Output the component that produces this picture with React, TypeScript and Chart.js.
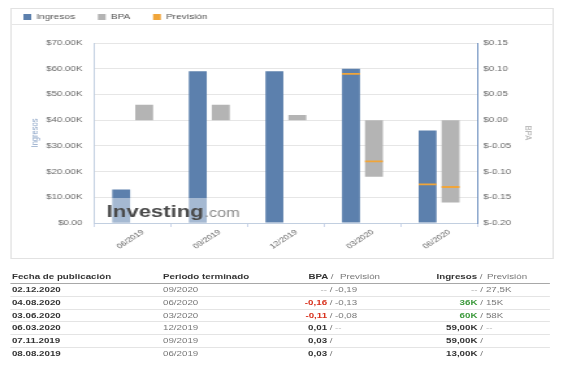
import React, { useEffect, useRef } from 'react';
import { Chart, registerables } from 'chart.js';

Chart.register(...registerables);

// ---- chart data ----
const PERIODS = ['06/2019', '09/2019', '12/2019', '03/2020', '06/2020'];
const INGRESOS = [13000, 59000, 59000, 60000, 36000];
const INGRESOS_PREVISION = [null, null, null, 58000, 15000];
const BPA = [0.03, 0.03, 0.01, -0.11, -0.16];
const BPA_PREVISION = [null, null, null, -0.08, -0.13];
const INGRESOS_TICKS = ['$0.00', '$10.00K', '$20.00K', '$30.00K', '$40.00K', '$50.00K', '$60.00K', '$70.00K'];
const BPA_TICKS = ['$-0.20', '$-0.15', '$-0.10', '$-0.05', '$0.00', '$0.05', '$0.10', '$0.15'];

// ---- table data ----
const FECHAS = ['02.12.2020', '04.08.2020', '03.06.2020', '06.03.2020', '07.11.2019', '08.08.2019'];
const PERIODOS_TABLA = ['09/2020', '06/2020', '03/2020', '12/2019', '09/2019', '06/2019'];
const BPA_REAL = ['--', '-0,16', '-0,11', '0,01', '0,03', '0,03'];
const BPA_PREV = ['-0,19', '-0,13', '-0,08', '--', '', ''];
const BPA_TONE = ['none', 'neg', 'neg', 'plain', 'plain', 'plain'];
const ING_REAL = ['--', '36K', '60K', '59,00K', '59,00K', '13,00K'];
const ING_PREV = ['27,5K', '15K', '58K', '--', '', ''];
const ING_TONE = ['none', 'pos', 'pos', 'plain', 'plain', 'plain'];

// ---- style ----
const FONT = '"Liberation Sans", Arial, Helvetica, sans-serif';
const BLUE = '#5c80ad';
const GRAY = '#b4b4b4';
const ORANGE = '#f0a53a';
const S = 1.3; // horizontal stretch of the whole widget
const MARKER_HALF = 0.005; // forecast marker half-thickness, fraction of axis span

const ING_MIN = 0, ING_MAX = 70000, ING_STEP = 10000;
const BPA_MIN = -0.2, BPA_MAX = 0.15, BPA_STEP = 0.05;

const toneColor = (t: string) =>
  t === 'neg' ? '#d8301c' : t === 'pos' ? '#3c9a3c' : t === 'none' ? '#aaa' : '#333';

const watermark = {
  id: 'watermark',
  afterDatasetsDraw(chart: any) {
    const { ctx, chartArea } = chart;
    const x = chartArea.left + 9.5;
    const base = chartArea.bottom - 6;
    ctx.save();
    ctx.font = `bold 17px ${FONT}`;
    const w1 = ctx.measureText('Investing').width;
    ctx.font = `12.5px ${FONT}`;
    const w2 = ctx.measureText('.com').width;
    ctx.fillStyle = 'rgba(255,255,255,0.45)';
    ctx.fillRect(x - 4, chartArea.bottom - 25, w1 + w2 + 8, 24.5);
    ctx.textBaseline = 'alphabetic';
    ctx.textAlign = 'left';
    ctx.font = `bold 17px ${FONT}`;
    ctx.fillStyle = '#4a4a4a';
    ctx.fillText('Investing', x, base);
    ctx.font = `12.5px ${FONT}`;
    ctx.fillStyle = '#8a8a8a';
    ctx.fillText('.com', x + w1 + 0.5, base);
    ctx.restore();
  },
};

function ChartBox() {
  const ref = useRef<HTMLCanvasElement | null>(null);
  useEffect(() => {
    if (!ref.current) return;
    const ingD = (ING_MAX - ING_MIN) * MARKER_HALF;
    const bpaD = (BPA_MAX - BPA_MIN) * MARKER_HALF;
    const chart = new Chart(ref.current, {
      type: 'bar',
      data: {
        labels: PERIODS,
        datasets: [
          { label: 'Ingresos', data: INGRESOS, yAxisID: 'y', stack: 'ing', backgroundColor: BLUE, order: 1 },
          { label: 'BPA', data: BPA, yAxisID: 'y1', stack: 'bpa', backgroundColor: GRAY, order: 1 },
          {
            label: 'Previsión',
            data: INGRESOS_PREVISION.map((v) => (v == null ? null : [v - ingD, v + ingD])),
            yAxisID: 'y', stack: 'ing', backgroundColor: ORANGE, order: 0,
          },
          {
            label: 'Previsión BPA',
            data: BPA_PREVISION.map((v) => (v == null ? null : [v - bpaD, v + bpaD])),
            yAxisID: 'y1', stack: 'bpa', backgroundColor: ORANGE, order: 0,
          },
        ] as any,
      },
      options: {
        animation: false,
        responsive: false,
        maintainAspectRatio: false,
        datasets: { bar: { barPercentage: 0.78, categoryPercentage: 0.6, borderWidth: 0 } },
        layout: { padding: { top: -13.4, left: -8.5, right: 0, bottom: 0 } },
        plugins: {
          tooltip: { enabled: false },
          legend: {
            display: true,
            position: 'top',
            align: 'start',
            labels: {
              boxWidth: 6,
              boxHeight: 6,
              padding: 17.5,
              color: '#555',
              font: { family: FONT, size: 7.8 },
              filter: (item: any) => item.datasetIndex !== 3,
              sort: (a: any, b: any) => a.datasetIndex - b.datasetIndex,
            },
          },
          subtitle: {
            display: true,
            text: '',
            position: 'top',
            weight: 500,
            font: { family: FONT, size: 2, lineHeight: 1 },
            padding: { top: 0, bottom: 10.1 },
          },
        },
        scales: {
          x: {
            offset: true,
            grid: { display: true, drawOnChartArea: false, drawTicks: true, tickLength: 4, color: '#ccd6eb', offset: true },
            border: { display: true, color: '#c2cfe0' },
            ticks: {
              autoSkip: false, minRotation: 40, maxRotation: 40, padding: 1, labelOffset: 8,
              color: '#666', font: { family: FONT, size: 7 },
            },
            afterFit: (s: any) => { s.height = 35; },
          },
          y: {
            position: 'left', min: ING_MIN, max: ING_MAX, stacked: false,
            ticks: {
              stepSize: ING_STEP, padding: 9.2, color: '#666', font: { family: FONT, size: 7.5 },
              callback: (v: any, i: number) => INGRESOS_TICKS[i] ?? String(v),
            },
            grid: { color: '#e6e6e6', drawTicks: false },
            border: { display: true, color: '#c2cfe0' },
            title: { display: true, text: 'Ingresos', color: '#8aa3c6', font: { family: FONT, size: 7.5 }, padding: { top: 22.2, bottom: 0 } },
            afterFit: (s: any) => { s.width = 72.1; },
          },
          y1: {
            position: 'right', min: BPA_MIN, max: BPA_MAX, stacked: false,
            ticks: {
              stepSize: BPA_STEP, padding: 4.6, color: '#666', font: { family: FONT, size: 7.5 },
              callback: (v: any, i: number) => BPA_TICKS[i] ?? String(v),
            },
            grid: { display: false, drawTicks: false },
            border: { display: true, color: '#6d8fbf' },
            title: { display: true, text: 'BPA', color: '#aaa', font: { family: FONT, size: 7.5 }, padding: { top: 14.8, bottom: 0 } },
            afterFit: (s: any) => { s.width = 57.8; },
          },
        },
      } as any,
      plugins: [watermark],
    });
    return () => chart.destroy();
  }, []);

  return (
    <div
      style={{
        position: 'absolute', left: 7.7, top: 8, width: 418, height: 251,
        border: '1px solid #e2e2e2', boxSizing: 'border-box', background: '#fff',
      }}
    >
      <canvas ref={ref} width={416} height={249} style={{ position: 'absolute', left: 0, top: 0, width: 416, height: 249 }} />
      <div style={{ position: 'absolute', left: 0, top: 15, width: 416, height: 1, background: '#e6e6e6' }} />
    </div>
  );
}

const cell = (extra: any) => ({ position: 'absolute' as const, top: 0, whiteSpace: 'nowrap' as const, ...extra });

function Table() {
  const rowH = 12.65;
  return (
    <div style={{ position: 'absolute', left: 0, top: 0, width: 565 / S, height: 367, fontSize: 7.5, fontFamily: FONT }}>
      <div
        style={{
          position: 'absolute', left: 7.7, top: 270, width: 415.5, height: 13, lineHeight: '13px',
          borderBottom: '1px solid #a8a8a8', color: '#333', fontWeight: 'bold',
        }}
      >
        <span style={cell({ left: 1.5 })}>Fecha de publicación</span>
        <span style={cell({ left: 117.7 })}>Periodo terminado</span>
        <span style={cell({ left: 170, width: 78.8, textAlign: 'right' })}>
          BPA <span style={{ fontWeight: 'normal', color: '#777' }}>/</span>
        </span>
        <span style={cell({ left: 253.8, fontWeight: 'normal', color: '#777' })}>Previsión</span>
        <span style={cell({ left: 280, width: 83.5, textAlign: 'right' })}>
          Ingresos <span style={{ fontWeight: 'normal', color: '#777' }}>/</span>
        </span>
        <span style={cell({ left: 366.9, fontWeight: 'normal', color: '#777' })}>Previsión</span>
      </div>
      {FECHAS.map((f, i) => (
        <div
          key={f}
          style={{
            position: 'absolute', left: 7.7, top: 284.4 + i * rowH, width: 415.5, height: rowH,
            boxSizing: 'border-box', lineHeight: `${rowH - 1}px`,
            borderBottom: i < FECHAS.length - 1 ? '1px solid #e4e4e4' : 'none',
          }}
        >
          <span style={cell({ left: 1.5, fontWeight: 'bold', color: '#333' })}>{f}</span>
          <span style={cell({ left: 117.7, color: '#777' })}>{PERIODOS_TABLA[i]}</span>
          <span style={cell({ left: 170, width: 78.1, textAlign: 'right' })}>
            <span style={{ fontWeight: BPA_TONE[i] === 'none' ? 'normal' : 'bold', color: toneColor(BPA_TONE[i]) }}>{BPA_REAL[i]}</span>
            <span style={{ color: '#777' }}> /</span>
          </span>
          <span style={cell({ left: 250, color: BPA_PREV[i] === '--' ? '#bbb' : '#777' })}>{BPA_PREV[i]}</span>
          <span style={cell({ left: 280, width: 83.8, textAlign: 'right' })}>
            <span style={{ fontWeight: ING_TONE[i] === 'none' ? 'normal' : 'bold', color: toneColor(ING_TONE[i]) }}>{ING_REAL[i]}</span>
            <span style={{ color: '#777' }}> /</span>
          </span>
          <span style={cell({ left: 366.1, color: ING_PREV[i] === '--' ? '#bbb' : '#777' })}>{ING_PREV[i]}</span>
        </div>
      ))}
    </div>
  );
}

export default function App() {
  return (
    <div
      style={{
        position: 'absolute', left: 0, top: 0, width: 565 / S, height: 367,
        transform: `scale(${S}, 1)`, transformOrigin: '0 0', fontFamily: FONT, background: '#fff',
      }}
    >
      <ChartBox />
      <Table />
    </div>
  );
}
